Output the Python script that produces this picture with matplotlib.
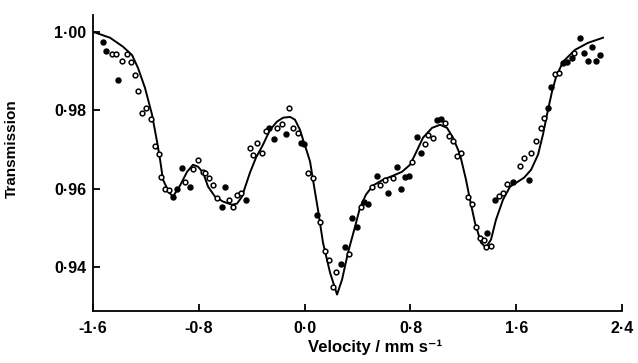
import numpy as np
import matplotlib
matplotlib.use("Agg")
import matplotlib.pyplot as plt
from matplotlib.ticker import FixedLocator, FixedFormatter

# ==============================
# DATA
# ==============================
# fitted curve
fit_v = [-1.600, -1.471, -1.373, -1.305, -1.260, -1.207, -1.154, -1.116, -1.093,
         -1.071, -1.025, -0.995, -0.942, -0.889, -0.844, -0.806, -0.768, -0.730,
         -0.678, -0.617, -0.549, -0.511, -0.473, -0.451, -0.413, -0.368, -0.315,
         -0.262, -0.209, -0.163, -0.110, -0.073, -0.035, -0.012, 0.018, 0.041,
         0.063, 0.101, 0.139, 0.192, 0.245, 0.283, 0.328, 0.381, 0.419, 0.464,
         0.517, 0.593, 0.668, 0.736, 0.797, 0.835, 0.895, 0.963, 1.024, 1.077,
         1.122, 1.175, 1.220, 1.250, 1.288, 1.334, 1.371, 1.409, 1.447, 1.500,
         1.553, 1.613, 1.659, 1.712, 1.765, 1.802, 1.840, 1.870, 1.901, 1.954,
         2.044, 2.143, 2.256]
fit_t = [1.0000, 0.9985, 0.9962, 0.9941, 0.9908, 0.9857, 0.9789, 0.9720, 0.9674,
         0.9623, 0.9590, 0.9580, 0.9608, 0.9643, 0.9661, 0.9656, 0.9641, 0.9605,
         0.9580, 0.9567, 0.9559, 0.9562, 0.9580, 0.9603, 0.9641, 0.9679, 0.9712,
         0.9750, 0.9771, 0.9781, 0.9783, 0.9776, 0.9750, 0.9725, 0.9694, 0.9669,
         0.9623, 0.9546, 0.9462, 0.9386, 0.9330, 0.9368, 0.9437, 0.9503, 0.9552,
         0.9585, 0.9608, 0.9623, 0.9633, 0.9643, 0.9661, 0.9687, 0.9730, 0.9755,
         0.9763, 0.9755, 0.9730, 0.9687, 0.9623, 0.9572, 0.9513, 0.9462, 0.9450,
         0.9470, 0.9521, 0.9572, 0.9605, 0.9618, 0.9628, 0.9648, 0.9687, 0.9738,
         0.9801, 0.9847, 0.9885, 0.9924, 0.9954, 0.9972, 0.9985]

# filled points
filled_v = [-1.524, -1.500, -1.410, -0.995, -0.965, -0.927, -0.867, -0.625, -0.600,
            -0.443, -0.270, -0.231, -0.141, -0.027, -0.005, 0.094, 0.275, 0.305,
            0.358, 0.396, 0.450, 0.480, 0.547, 0.630, 0.698, 0.729, 0.759, 0.789,
            0.850, 0.880, 1.000, 1.030, 1.380, 1.440, 1.576, 1.697, 1.840, 1.860,
            1.950, 1.980, 2.020, 2.080, 2.110, 2.140, 2.170, 2.200, 2.230]
filled_t = [0.9975, 0.9952, 0.9878, 0.9580, 0.9600, 0.9653, 0.9603, 0.9554, 0.9605,
            0.9570, 0.9755, 0.9727, 0.9740, 0.9717, 0.9715, 0.9534, 0.9409, 0.9452,
            0.9524, 0.9503, 0.9567, 0.9562, 0.9633, 0.9590, 0.9656, 0.9598, 0.9630,
            0.9633, 0.9732, 0.9692, 0.9776, 0.9778, 0.9488, 0.9570, 0.9616, 0.9623,
            0.9806, 0.9860, 0.9921, 0.9924, 0.9934, 0.9985, 0.9946, 0.9926, 0.9962,
            0.9926, 0.9941]

# open points
open_v = [-1.460, -1.430, -1.380, -1.340, -1.310, -1.280, -1.260, -1.230, -1.200,
          -1.160, -1.130, -1.100, -1.086, -1.056, -1.025, -0.904, -0.844, -0.806,
          -0.768, -0.753, -0.723, -0.693, -0.662, -0.572, -0.541, -0.511, -0.481,
          -0.413, -0.390, -0.360, -0.322, -0.292, -0.209, -0.171, -0.118, -0.088,
          -0.050, 0.026, 0.063, 0.116, 0.154, 0.184, 0.214, 0.237, 0.335, 0.426,
          0.509, 0.570, 0.608, 0.668, 0.812, 0.910, 0.933, 0.970, 1.060, 1.090,
          1.120, 1.150, 1.180, 1.235, 1.266, 1.296, 1.326, 1.356, 1.370, 1.410,
          1.470, 1.500, 1.530, 1.630, 1.660, 1.710, 1.750, 1.790, 1.810, 1.890,
          1.920, 2.040]
open_t = [0.9944, 0.9944, 0.9926, 0.9944, 0.9924, 0.9890, 0.9850, 0.9794, 0.9806,
          0.9778, 0.9710, 0.9689, 0.9630, 0.9600, 0.9597, 0.9618, 0.9651, 0.9674,
          0.9643, 0.9640, 0.9628, 0.9610, 0.9575, 0.9570, 0.9554, 0.9585, 0.9590,
          0.9704, 0.9687, 0.9717, 0.9692, 0.9748, 0.9755, 0.9766, 0.9806, 0.9755,
          0.9743, 0.9640, 0.9628, 0.9516, 0.9442, 0.9417, 0.9350, 0.9388, 0.9434,
          0.9554, 0.9605, 0.9610, 0.9623, 0.9628, 0.9669, 0.9715, 0.9738, 0.9730,
          0.9768, 0.9735, 0.9722, 0.9684, 0.9692, 0.9580, 0.9560, 0.9503, 0.9473,
          0.9470, 0.9450, 0.9455, 0.9582, 0.9590, 0.9613, 0.9658, 0.9679, 0.9692,
          0.9722, 0.9755, 0.9780, 0.9893, 0.9896, 0.9946]

x_ticks = [-1.6, -0.8, 0.0, 0.8, 1.6, 2.4]
x_labels = ["-1·6", "-0·8", "0·0", "0·8", "1·6", "2·4"]
y_ticks = [0.94, 0.96, 0.98, 1.00]
y_labels = ["0·94", "0·96", "0·98", "1·00"]

# ==============================
# PLOT
# ==============================
plt.rcParams["font.family"] = ["Liberation Sans", "DejaVu Sans"]

fig = plt.figure(figsize=(6.38, 3.63), dpi=100)
ax = fig.add_axes([0.1458, 0.1433, 0.8292, 0.8154])

ax.plot(fit_v, fit_t, color="black", lw=1.4, zorder=2)
ax.plot(filled_v, filled_t, "o", color="black", ms=3.6, zorder=3)
ax.plot(open_v, open_t, "o", mfc="white", mec="black", mew=1.1, ms=3.4, zorder=3)

ax.set_xlim(-1.6, 2.4)
ax.set_ylim(0.9288, 1.0043)

ax.xaxis.set_major_locator(FixedLocator(x_ticks))
ax.xaxis.set_major_formatter(FixedFormatter(x_labels))
ax.yaxis.set_major_locator(FixedLocator(y_ticks))
ax.yaxis.set_major_formatter(FixedFormatter(y_labels))

for s in ["top", "right"]:
    ax.spines[s].set_visible(False)
for s in ["left", "bottom"]:
    ax.spines[s].set_linewidth(1.3)

ax.tick_params(direction="in", length=5, width=1.3, labelsize=11.5, pad=5)
ax.tick_params(axis="x", pad=7)
for lab in ax.get_xticklabels() + ax.get_yticklabels():
    lab.set_fontweight("bold")

ax.set_ylabel("Transmission", fontsize=11, fontweight="bold")
ax.yaxis.set_label_coords(-0.140, 0.55)
ax.set_xlabel("Velocity / mm s⁻¹", fontsize=12, fontweight="bold")
ax.xaxis.set_label_coords(0.533, -0.098)

fig.savefig("out.png", dpi=100)
